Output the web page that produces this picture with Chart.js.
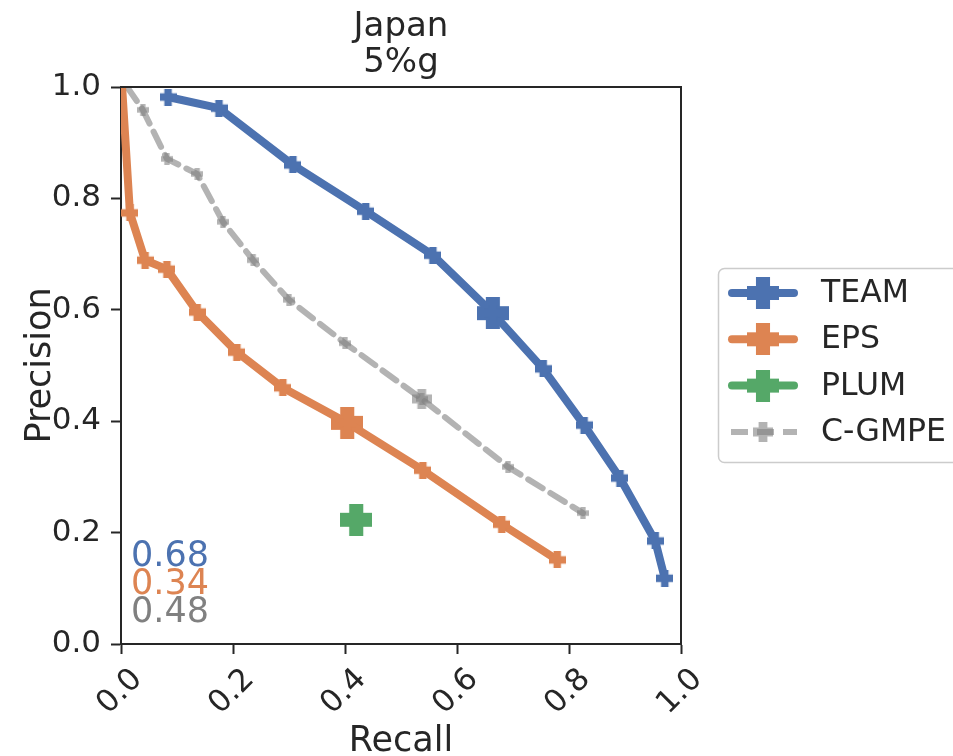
<!DOCTYPE html>
<html>
<head>
<meta charset="utf-8">
<script src="https://cdn.jsdelivr.net/npm/chart.js@4.4.0/dist/chart.umd.min.js"></script>
<style>
  html, body { margin: 0; padding: 0; background: #fff; }
  #wrap { width: 953px; height: 756px; position: relative; }
</style>
</head>
<body>
<div id="wrap"><canvas id="prChart"></canvas></div>
<script>
// series values (recall on x, precision on y)
const TEAM_RECALL = [0.084, 0.175, 0.307, 0.437, 0.557, 0.664, 0.754, 0.827, 0.891, 0.954, 0.971];
const TEAM_PREC   = [0.982, 0.962, 0.860, 0.777, 0.698, 0.594, 0.494, 0.393, 0.298, 0.185, 0.118];
const EPS_RECALL  = [0.002, 0.016, 0.043, 0.082, 0.136, 0.207, 0.289, 0.404, 0.539, 0.680, 0.779];
const EPS_PREC    = [1.000, 0.774, 0.689, 0.673, 0.596, 0.524, 0.460, 0.397, 0.312, 0.215, 0.151];
const CGMPE_RECALL = [0.011, 0.039, 0.082, 0.136, 0.182, 0.236, 0.300, 0.400, 0.537, 0.691, 0.825];
const CGMPE_PREC   = [1.000, 0.959, 0.871, 0.844, 0.758, 0.689, 0.618, 0.540, 0.440, 0.318, 0.235];

// operating points (big markers)
const TEAM_OP  = [0.664, 0.594];
const EPS_OP   = [0.404, 0.397];
const PLUM_OP  = [0.420, 0.223];
const CGMPE_OP = [0.537, 0.440];

const SERIES_NAMES = ['TEAM', 'EPS', 'PLUM', 'C-GMPE'];
const SCORES = ['0.68', '0.34', '0.48'];
const TICKS = [0.0, 0.2, 0.4, 0.6, 0.8, 1.0];

const BLUE = '#4c72b0', ORANGE = '#dd8452', GREEN = '#55a868', GREY = 'rgba(128,128,128,0.6)';
const TXT = '#262626';
const FONT = '"DejaVu Sans", sans-serif';

const pts = (xs, ys) => xs.map((x, i) => ({ x, y: ys[i] }));

// filled plus marker ("P")
function plusMarker(size, color) {
  const c = document.createElement('canvas');
  c.width = size; c.height = size;
  const g = c.getContext('2d');
  const a = size * 0.44, o = (size - a) / 2;
  g.fillStyle = color;
  g.beginPath();
  g.moveTo(o, 0); g.lineTo(o + a, 0); g.lineTo(o + a, o); g.lineTo(size, o);
  g.lineTo(size, o + a); g.lineTo(o + a, o + a); g.lineTo(o + a, size); g.lineTo(o, size);
  g.lineTo(o, o + a); g.lineTo(0, o + a); g.lineTo(0, o); g.lineTo(o, o);
  g.closePath();
  g.fill();
  return c;
}

const mk = {
  teamS: plusMarker(17, BLUE), teamB: plusMarker(32, BLUE),
  epsS: plusMarker(17, ORANGE), epsB: plusMarker(32, ORANGE),
  plumB: plusMarker(32, GREEN),
  greyS: plusMarker(12, GREY), greyB: plusMarker(20, GREY)
};

const hideFirst = img => ctx => ctx.dataIndex === 0 ? false : img;

const datasets = [
  { label: 'TEAM', data: pts(TEAM_RECALL, TEAM_PREC), borderColor: BLUE, borderWidth: 8,
    pointStyle: mk.teamS, legendImg: mk.teamB },
  { label: 'EPS', data: pts(EPS_RECALL, EPS_PREC), borderColor: ORANGE, borderWidth: 8,
    pointStyle: hideFirst(mk.epsS), legendImg: mk.epsB },
  { label: 'PLUM', data: [{ x: PLUM_OP[0], y: PLUM_OP[1] }], borderColor: GREEN, borderWidth: 8,
    showLine: false, pointStyle: mk.plumB, legendImg: mk.plumB },
  { label: 'C-GMPE', data: pts(CGMPE_RECALL, CGMPE_PREC), borderColor: GREY, borderWidth: 6,
    borderDash: [17, 9], pointStyle: hideFirst(mk.greyS), legendImg: mk.greyB },
  { label: '_op', data: [{ x: TEAM_OP[0], y: TEAM_OP[1] }], showLine: false, pointStyle: mk.teamB },
  { label: '_op', data: [{ x: EPS_OP[0], y: EPS_OP[1] }], showLine: false, pointStyle: mk.epsB },
  { label: '_op', data: [{ x: CGMPE_OP[0], y: CGMPE_OP[1] }], showLine: false, pointStyle: mk.greyB }
].map(d => Object.assign({ borderCapStyle: 'round', borderJoinStyle: 'round', fill: false,
  backgroundColor: d.borderColor, pointRadius: 8, pointHoverRadius: 8, tension: 0 }, d));

const decorations = {
  id: 'decorations',
  afterDatasetsDraw(chart) {
    const { ctx, chartArea: a } = chart;
    ctx.save();
    // top / right frame
    ctx.strokeStyle = TXT; ctx.lineWidth = 2;
    ctx.beginPath();
    ctx.moveTo(a.left, a.top); ctx.lineTo(a.right, a.top); ctx.lineTo(a.right, a.bottom);
    ctx.stroke();
    // scores
    ctx.font = '35px ' + FONT;
    ctx.textAlign = 'left'; ctx.textBaseline = 'middle';
    const cols = [BLUE, ORANGE, '#808080'];
    SCORES.forEach((s, i) => { ctx.fillStyle = cols[i]; ctx.fillText(s, 131, 557 + i * 28); });
    ctx.restore();
  },
  afterDraw(chart) {
    const { ctx, chartArea: a, scales } = chart;
    ctx.save();
    ctx.fillStyle = TXT;
    // title
    ctx.font = '34px ' + FONT;
    ctx.textAlign = 'center'; ctx.textBaseline = 'alphabetic';
    const cx = (a.left + a.right) / 2;
    ctx.fillText('Japan', cx, 36);
    ctx.fillText('5%g', cx, 72);
    // x tick labels, rotated 45 deg
    ctx.font = '31px ' + FONT;
    ctx.textBaseline = 'middle';
    TICKS.forEach(v => {
      const px = scales.x.getPixelForValue(v);
      ctx.save();
      ctx.translate(px - 1, a.bottom + 48);
      ctx.rotate(-Math.PI / 4);
      ctx.fillText(v.toFixed(1), 0, 0);
      ctx.restore();
    });
    // axis titles
    ctx.font = '35px ' + FONT;
    ctx.textBaseline = 'alphabetic';
    ctx.fillText('Recall', cx, 751);
    ctx.save();
    ctx.translate(50, (a.top + a.bottom) / 2);
    ctx.rotate(-Math.PI / 2);
    ctx.fillText('Precision', 0, 0);
    ctx.restore();

    // legend
    const lx = 718, ly = 268, lw = 250, lh = 194;
    ctx.fillStyle = '#fff';
    ctx.strokeStyle = '#cccccc'; ctx.lineWidth = 1.5;
    ctx.beginPath();
    ctx.roundRect(lx + 0.5, ly + 0.5, lw, lh, 6);
    ctx.fill(); ctx.stroke();
    SERIES_NAMES.forEach((name, i) => {
      const ds = chart.data.datasets[i];
      const y = 293 + i * 46.3;
      ctx.save();
      ctx.strokeStyle = ds.borderColor;
      ctx.lineWidth = ds.borderWidth;
      ctx.lineCap = ds.borderDash ? 'butt' : 'round';
      ctx.setLineDash(ds.borderDash || []);
      ctx.beginPath();
      if (ds.borderDash) { ctx.moveTo(731, y); ctx.lineTo(797, y); }
      else { ctx.moveTo(732, y); ctx.lineTo(794, y); }
      ctx.stroke();
      ctx.restore();
      const img = ds.legendImg;
      ctx.drawImage(img, 763 - img.width / 2, y - img.height / 2);
      ctx.fillStyle = TXT;
      ctx.font = '31.5px ' + FONT;
      ctx.textAlign = 'left'; ctx.textBaseline = 'middle';
      ctx.fillText(name, 821, y + 1);
    });
    ctx.restore();
  }
};

new Chart(document.getElementById('prChart'), {
  type: 'line',
  data: { datasets },
  options: {
    responsive: true,
    maintainAspectRatio: false,
    animation: false,
    parsing: false,
    layout: { padding: { top: 87, right: 272, left: 0, bottom: 0 } },
    plugins: { legend: { display: false }, tooltip: { enabled: false }, title: { display: false } },
    scales: {
      x: {
        type: 'linear', min: 0, max: 1,
        afterBuildTicks: s => { s.ticks = TICKS.map(v => ({ value: v })); },
        afterFit: s => { s.height = 112; },
        ticks: { display: true, color: 'rgba(0,0,0,0)', font: { size: 31, family: FONT }, maxRotation: 0, autoSkip: false },
        grid: { drawOnChartArea: false, drawTicks: true, tickLength: 10, tickColor: TXT, tickWidth: 2 },
        border: { display: true, color: TXT, width: 2 }
      },
      y: {
        type: 'linear', min: 0, max: 1,
        afterBuildTicks: s => { s.ticks = TICKS.map(v => ({ value: v })); },
        afterFit: s => { s.width = 121; },
        ticks: { color: TXT, padding: 10, font: { size: 31, family: FONT }, callback: v => v.toFixed(1) },
        grid: { drawOnChartArea: false, drawTicks: true, tickLength: 10, tickColor: TXT, tickWidth: 2 },
        border: { display: true, color: TXT, width: 2 }
      }
    }
  },
  plugins: [decorations]
});
</script>
</body>
</html>
